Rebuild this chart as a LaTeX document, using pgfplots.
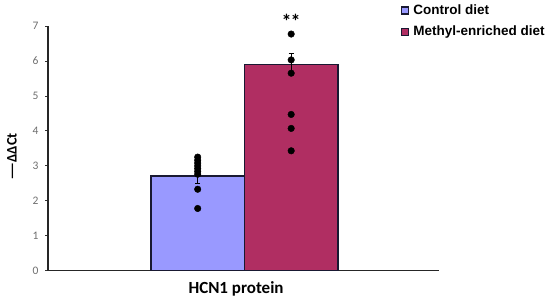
\documentclass[border=0pt]{standalone}
\usepackage{pgfplots}
\pgfplotsset{compat=1.18}
\usepackage{fontspec}
\setmainfont{Carlito}
\newfontfamily\arialf{Liberation Sans}

\definecolor{ctrl}{RGB}{153,153,255}
\definecolor{methyl}{RGB}{176,46,98}
\definecolor{edge}{RGB}{25,25,50}
\definecolor{tickgray}{RGB}{110,110,110}

\begin{document}
\begin{tikzpicture}
\path[use as bounding box] (0,0) rectangle (550bp,302bp);
\begin{axis}[
    at={(48bp,31.3bp)}, anchor=south west,
    scale only axis,
    width=391bp, height=244.7bp,
    xmin=-0.601, xmax=3.581,
    ymin=0, ymax=7,
    axis x line*=bottom, axis y line*=left,
    axis line style={-, line width=1.2bp, black!85},
    xtick=\empty,
    ytick={0,1,...,7},
    tick align=outside,
    major tick length=3bp,
    tick style={line width=0.8bp, black!80},
    /pgf/number format/assume math mode=true,
    yticklabel style={font=\fontsize{11.5bp}{13bp}\selectfont, text=tickgray, xshift=-3bp},
    ylabel={\scalebox{1.4}[1]{—}ΔΔCt},
    ylabel style={at={(axis description cs:-0.092,0.465)}, anchor=center,
        font=\fontsize{14.5bp}{16bp}\selectfont\bfseries},
    xlabel={HCN1 protein},
    xlabel style={at={(axis description cs:0.481,-0.075)}, anchor=center,
        font=\fontsize{17bp}{19bp}\selectfont\bfseries},
    clip=false,
    legend style={at={(axis description cs:0.903,1.095)}, anchor=north west,
        draw=none, fill=none, inner sep=0pt, row sep=6bp,
        font=\fontsize{13.5bp}{16bp}\selectfont\arialf\bfseries,
        /tikz/every odd column/.append style={column sep=2bp}},
    legend cell align=left,
]
\addplot[ybar, bar width=1, bar shift=0pt, fill=ctrl, draw=edge, line width=1.2bp,
    legend image code/.code={\draw[fill=ctrl, draw=edge, line width=1.2bp] (0bp,-3.5bp) rectangle (7bp,3.5bp);},
    error bars/.cd, y dir=both, y explicit,
    error bar style={black, line width=1bp},
    error mark options={rotate=90, mark size=2.5bp, black, line width=1bp}]
    coordinates {(1,2.71) +- (0,0.21)};
\addlegendentry{Control diet}
\addplot[ybar, bar width=1, bar shift=0pt, fill=methyl, draw=edge, line width=1.2bp,
    legend image code/.code={\draw[fill=methyl, draw=edge, line width=1.2bp] (0bp,-3.5bp) rectangle (7bp,3.5bp);},
    error bars/.cd, y dir=both, y explicit,
    error bar style={black, line width=1bp},
    error mark options={rotate=90, mark size=2.5bp, black, line width=1bp}]
    coordinates {(2,5.91) +- (0,0.31)};
\addlegendentry{Methyl-enriched diet}
\addplot[only marks, mark=*, mark size=3.3bp, black, forget plot]
    coordinates {(1,3.25)(1,3.16)(1,3.08)(1,3.00)(1,2.92)(1,2.84)(1,2.76)(1,2.33)(1,1.78)};
\addplot[only marks, mark=*, mark size=3.3bp, black, forget plot]
    coordinates {(2,6.77)(2,6.03)(2,5.65)(2,4.47)(2,4.07)(2,3.43)};
\node[font=\fontsize{20bp}{22bp}\selectfont\bfseries] at (axis cs:2,7.12) {*\kern-1bp*};
\end{axis}
\end{tikzpicture}
\end{document}
